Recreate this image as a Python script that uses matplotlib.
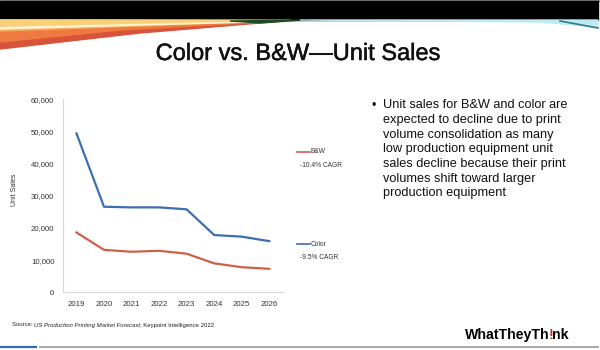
import matplotlib
matplotlib.use("Agg")
import matplotlib.pyplot as plt
from matplotlib.patches import Polygon, Rectangle
import matplotlib.patheffects as pe
import numpy as np

years = ["2019", "2020", "2021", "2022", "2023", "2024", "2025", "2026"]
color_units = [49400, 26600, 26400, 26400, 25800, 17800, 17300, 15900]
bw_units = [18600, 13200, 12600, 12900, 12000, 9000, 7800, 7300]
series_names = ["B&W", "Color"]
cagr_labels = ["-10.4% CAGR", "-9.5% CAGR"]
y_ticks = [0, 10000, 20000, 30000, 40000, 50000, 60000]

title = "Color vs. B&W\u2014Unit Sales"
bullet = ("Unit sales for B&W and color are\nexpected to decline due to print\n"
          "volume consolidation as many\nlow production equipment unit\n"
          "sales decline because their print\nvolumes shift toward larger\n"
          "production equipment")

plt.rcParams['font.family'] = ['Liberation Sans', 'DejaVu Sans']

W, H = 600, 350
fig = plt.figure(figsize=(6, 3.5), dpi=100)
fig.patch.set_facecolor("white")

bg = fig.add_axes([0, 0, 1, 1], zorder=0)
bg.set_xlim(0, W)
bg.set_ylim(H, 0)
bg.axis("off")
bg.add_patch(Rectangle((0, 0), W, 1.2, color="#888888"))
bg.add_patch(Rectangle((0, 1.2), 598, 19, color="black"))
bg.add_patch(Polygon([(0, 20), (290, 20.5), (140, 33), (0, 49)], closed=True, color="#d9533a"))
bg.add_patch(Polygon([(0, 20), (290, 20.5), (120, 30), (0, 42)], closed=True, color="#ee7a42"))
bg.add_patch(Polygon([(0, 20), (290, 20.5), (0, 31)], closed=True, color="#f6ad5a"))
bg.add_patch(Polygon([(0, 20), (290, 20.5), (0, 26)], closed=True, color="#f9cf78"))
bg.add_patch(Polygon([(0, 27.5), (250, 22), (0, 29)], closed=True, color="#fff3d0"))
bg.add_patch(Polygon([(230, 21), (300, 20.2), (260, 23)], closed=True, color="#1f4a1f"))
bg.add_patch(Polygon([(300, 20), (598, 20), (598, 27), (540, 22)], closed=True, color="#bfeaf2"))
bg.plot([560, 598], [21, 28], color="#2f7c8c", lw=1.2)
bg.plot([40, 598], [347, 347], color="#9a9a9a", lw=1.2)
bg.plot([0, 36], [347, 347], color="#2f6db5", lw=1.6)

fig.text(0.497, 1 - 54 / H, title, ha="center", va="center", fontsize=17, color="#111111",
         path_effects=[pe.withStroke(linewidth=0.35, foreground="#111111")])

ax = fig.add_axes([62.7 / W, 1 - 292.3 / H, (283 - 62.7) / W, (292.3 - 99.3) / H], zorder=1)
x = np.arange(len(years))
red = "#cf5f47"
blue = "#3d6db3"
ax.plot(x, bw_units, color=red, lw=1.6)
ax.plot(x, color_units, color=blue, lw=1.6)
ax.set_xlim(-0.5, len(years) - 0.5)
ax.set_ylim(0, 60000)
ax.set_yticks(y_ticks)
ax.set_yticklabels([f"{v:,}" for v in y_ticks], fontsize=5.6, color="#333333")
ax.set_xticks(x)
ax.set_xticklabels(years, fontsize=5.6, color="#333333")
ax.tick_params(length=0, pad=6)
for s in ["top", "right"]:
    ax.spines[s].set_visible(False)
for s in ["left", "bottom"]:
    ax.spines[s].set_color("#d9d9d9")
    ax.spines[s].set_linewidth(0.8)
ax.set_facecolor("none")
fig.text(15 / W, 1 - 190 / H, "Unit Sales", rotation=90, ha="center", va="center",
         fontsize=5, color="#333333")

for name, cagr, col, yy in [(series_names[0], cagr_labels[0], red, 151.7),
                            (series_names[1], cagr_labels[1], blue, 244)]:
    bg.plot([297, 309.5], [yy, yy], color=col, lw=1.2)
    bg.text(310.8, yy, name, fontsize=4.8, va="center", ha="left", color="#333333")
    bg.text(300, yy + 13.5, cagr, fontsize=4.8, va="center", ha="left", color="#333333")

bg.text(372, 106.5, "\u2022", fontsize=9, va="center", ha="left", color="#111111")
bg.text(383, 99.5, bullet, fontsize=9.2, va="top", ha="left", color="#111111",
        linespacing=1.29)

renderer = fig.canvas.get_renderer()

def chain(parts, x0, y, **kw):
    xx = x0
    for txt, extra, adj in parts:
        xx += adj
        t = bg.text(xx, y, txt, va="center", ha="left", **kw, **extra)
        bb = t.get_window_extent(renderer=renderer)
        xx += bb.width * W / fig.bbox.width

chain([("Source: ", {}, 0),
       ("US Production Printing Market Forecast", {"style": "italic"}, 0),
       ("; Keypoint Intelligence 2022", {}, 0)],
      12, 325, fontsize=4.3, color="#222222")

chain([("WhatTheyTh", {"color": "black"}, 0),
       ("!", {"color": "#d42a1e"}, -1.0),
       ("nk", {"color": "black"}, -1.0)],
      465, 335, fontsize=10.2, weight="bold")

fig.savefig("out.png", dpi=100)
